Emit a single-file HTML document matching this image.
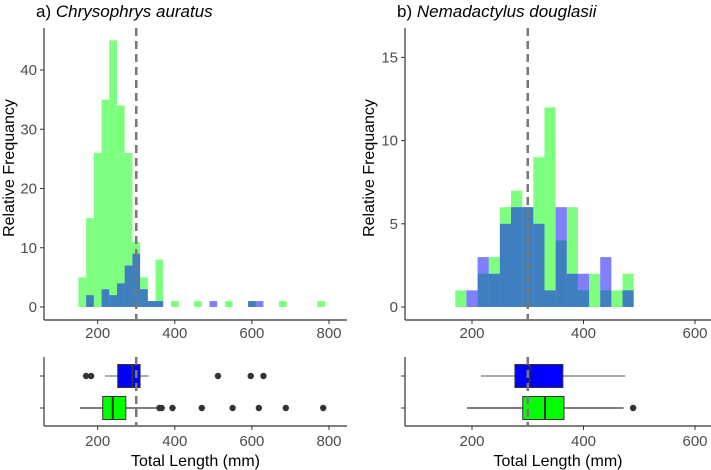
<!DOCTYPE html>
<html><head><meta charset="utf-8"><style>
body{margin:0;background:#fff}
svg{font-family:"Liberation Sans",sans-serif;display:block}
</style></head><body>
<svg id="c" width="711" height="470"></svg>
<script>
// ---- data ----
const binStartA = [150,170,190,210,230,250,270,290,310,330,350,370,390,410,430,450,470,490,510,530,550,570,590,610,630,650,670,690,710,730,750,770];
const greenA =    [5,15,26,35,45,34,26,11,5,1,8,0,1,0,0,1,0,0,0,1,0,0,1,0,0,0,1,0,0,0,0,1];
const blueA =     [0,2,0,3,2,4,7,9,3,1,1,0,0,0,0,0,0,1,0,0,0,0,1,1,0,0,0,0,0,0,0,0];
const binStartB = [170,190,210,230,250,270,290,310,330,350,370,390,410,430,450,470];
const greenB =    [1,0,2,3,6,7,6,9,12,4,6,1,2,1,1,2];
const blueB =     [0,1,3,2,5,6,6,5,1,6,2,2,0,3,0,1];
const yTicksA = [0,10,20,30,40];
const yTicksB = [0,5,10,15];
const xTicksA = [200,400,600,800];
const xTicksB = [200,400,600];
// boxplots: [whiskerLow, q1, median, q3, whiskerHigh]
const boxBlueA = [219,252,290,310,332];
const boxGreenA = [154,213,239,273,352];
const outBlueA = [170,183,512,597,630];
const outGreenA = [360,366,394,470,550,618,688,785];
const boxBlueB = [216,277,303,363,475];
const boxGreenB = [191,291,331,365,472];
const outBlueB = [];
const outGreenB = [489];
const cutoff = 300;

// ---- drawing ----
const svg = document.getElementById('c');
const NS = 'http://www.w3.org/2000/svg';
function el(tag, attrs, parent){const e=document.createElementNS(NS,tag);for(const k in attrs)e.setAttribute(k,attrs[k]);(parent||svg).appendChild(e);return e;}
function txt(s, attrs){const e=el('text',attrs);e.textContent=s;return e;}

function panel(p){
  const xs = v => p.x0 + (v-200)*p.k;
  const ys = v => p.yb - v*p.ky;
  const g = el('g',{});
  
  
  p.bins.forEach((b,i)=>{
    if(p.green[i]>0){
      const r=el('rect',{x:xs(b),y:ys(p.green[i]),width:xs(b+20)-xs(b),height:p.green[i]*p.ky,fill:'rgba(0,255,0,0.5)'},g);
      
      
    }
  });
  p.bins.forEach((b,i)=>{
    if(p.blue[i]>0){
      const r=el('rect',{x:xs(b),y:ys(p.blue[i]),width:xs(b+20)-xs(b),height:p.blue[i]*p.ky,fill:'rgba(0,0,255,0.5)'},g);
      
      
    }
  });
  el('line',{x1:p.ax,y1:28,x2:p.ax,y2:320,stroke:'#333','stroke-width':1.2});
  el('line',{x1:p.ax,y1:320,x2:p.ar,y2:320,stroke:'#333','stroke-width':1.2});
  p.yt.forEach(t=>{
    el('line',{x1:p.ax-4,y1:ys(t),x2:p.ax,y2:ys(t),stroke:'#333'});
    const e=txt(t,{x:p.ax-7,y:ys(t)+5,'text-anchor':'end','font-size':15,fill:'#4d4d4d'});
    
  });
  p.xt.forEach(t=>{
    el('line',{x1:xs(t),y1:320,x2:xs(t),y2:324,stroke:'#333'});
    const e=txt(t,{x:xs(t),y:338,'text-anchor':'middle','font-size':15,fill:'#4d4d4d'});
    
  });
  el('line',{x1:xs(cutoff),y1:28,x2:xs(cutoff),y2:320,stroke:'#777','stroke-width':2.5,'stroke-dasharray':'8,5'});
  const ttl=el('text',{x:p.ax-8,y:17,'font-size':17,fill:'#000'});
  ttl.innerHTML=p.title;
  
  const yl=txt('Relative Frequancy',{x:0,y:0,transform:`translate(${p.ylx},168) rotate(-90)`,'text-anchor':'middle','font-size':16,fill:'#000'});
  

  const bt=357, bb=426;
  el('line',{x1:p.ax,y1:bt,x2:p.ax,y2:bb,stroke:'#333','stroke-width':1.2});
  el('line',{x1:p.ax,y1:bb,x2:p.ar,y2:bb,stroke:'#333','stroke-width':1.2});
  p.xt.forEach(t=>{
    el('line',{x1:xs(t),y1:bb,x2:xs(t),y2:bb+4,stroke:'#333'});
    const e=txt(t,{x:xs(t),y:446,'text-anchor':'middle','font-size':15,fill:'#4d4d4d'});
    
  });
  const xl=txt('Total Length (mm)',{x:(p.ax+p.ar)/2,y:466,'text-anchor':'middle','font-size':16,fill:'#000'});
  
  function box(stats,outs,cy,fill,wcol,name){
    el('line',{x1:p.ax-4,y1:cy,x2:p.ax,y2:cy,stroke:'#333'});
    el('line',{x1:xs(stats[0]),y1:cy,x2:xs(stats[1]),y2:cy,stroke:wcol,'stroke-width':1.2});
    el('line',{x1:xs(stats[3]),y1:cy,x2:xs(stats[4]),y2:cy,stroke:wcol,'stroke-width':1.2});
    const r=el('rect',{x:xs(stats[1]),y:cy-11.5,width:xs(stats[3])-xs(stats[1]),height:23,fill:fill,stroke:'#333','stroke-width':1});
    
    el('line',{x1:xs(stats[2]),y1:cy-11.5,x2:xs(stats[2]),y2:cy+11.5,stroke:'#333','stroke-width':2});
    outs.forEach(o=>{
      const c=el('circle',{cx:xs(o),cy:cy,r:3.2,fill:'#333'});
      
    });
  }
  box(p.bb,p.ob,376,'#0000ff','#777',p.id+'-blue-box');
  box(p.bg,p.og,408,'#00ff00','#333',p.id+'-green-box');
  el('line',{x1:xs(cutoff),y1:bt,x2:xs(cutoff),y2:bb,stroke:'#777','stroke-width':2.5,'stroke-dasharray':'8,5'});
}

panel({id:'chrysophrys',x0:97.7,k:0.3855,yb:307,ky:5.925,ax:44,ar:347,bins:binStartA,green:greenA,blue:blueA,yt:yTicksA,xt:xTicksA,
  title:'a) <tspan font-style="italic">Chrysophrys auratus</tspan>',ylx:14,bb:boxBlueA,bg:boxGreenA,ob:outBlueA,og:outGreenA});
panel({id:'nemadactylus',x0:472,k:0.5575,yb:307,ky:16.64,ax:405,ar:711,bins:binStartB,green:greenB,blue:blueB,yt:yTicksB,xt:xTicksB,
  title:'b) <tspan font-style="italic">Nemadactylus douglasii</tspan>',ylx:374,bb:boxBlueB,bg:boxGreenB,ob:outBlueB,og:outGreenB});
</script>
</body></html>
